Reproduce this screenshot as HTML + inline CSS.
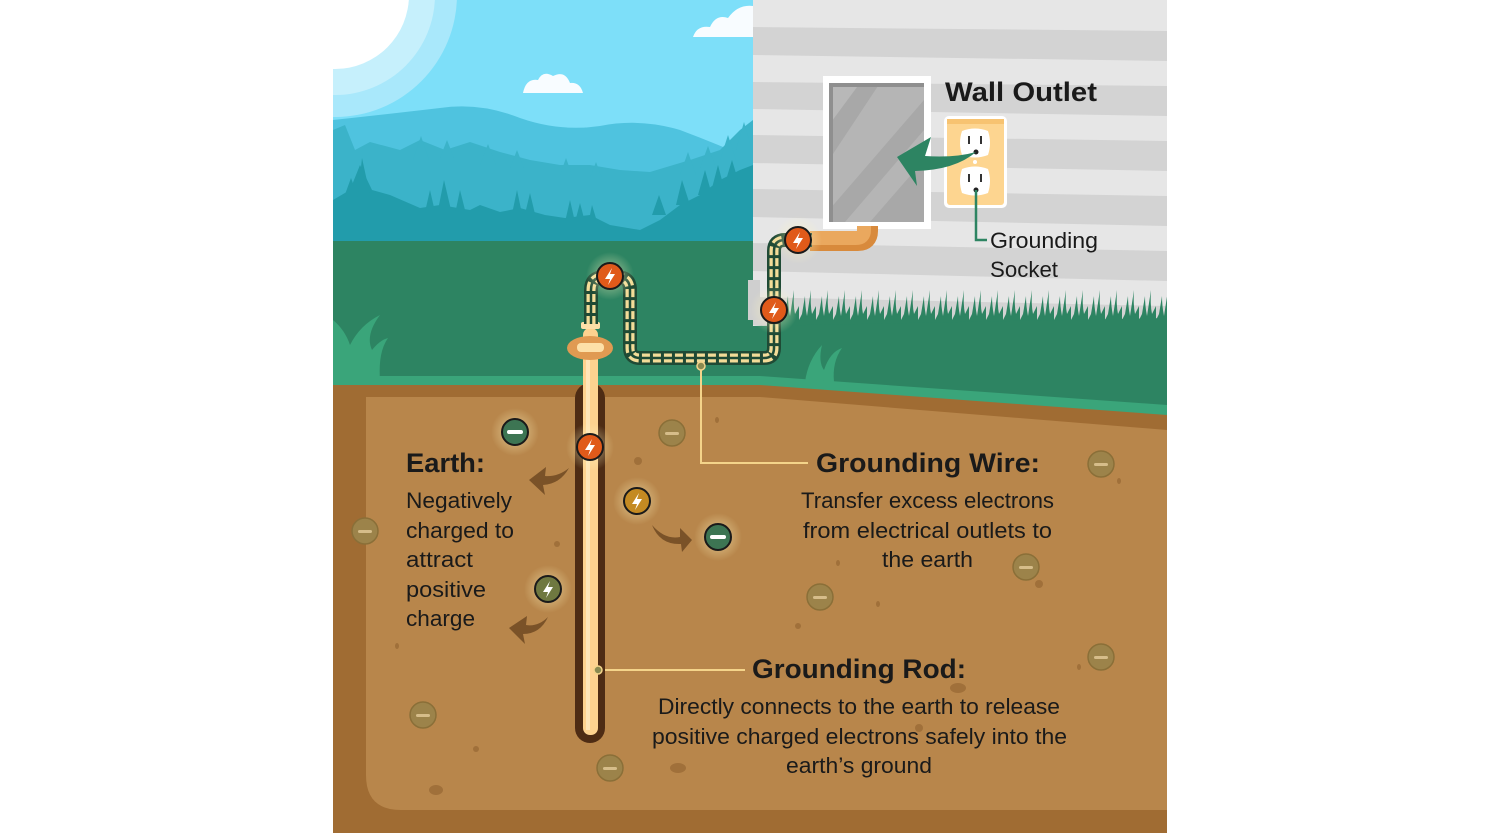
<!DOCTYPE html>
<html><head><meta charset="utf-8"><style>
html,body{margin:0;padding:0;background:#fff;}
svg{display:block;}
text{font-family:"Liberation Sans",sans-serif;fill:#1a1a1a;}
.b{font-weight:bold;font-size:27px;}
.t{font-size:22px;}
</style></head><body>
<svg width="1500" height="833" viewBox="0 0 1500 833" xmlns="http://www.w3.org/2000/svg">
<defs>
<clipPath id="c"><rect x="333" y="0" width="834" height="833"/></clipPath>
<clipPath id="sky"><rect x="333" y="0" width="420" height="400"/></clipPath>
<pattern id="grass" x="0" y="290" width="17" height="40" patternUnits="userSpaceOnUse">
<path d="M0 40 L0 30 L3 24 L6 6 Q6 16 8 26 L12 0 Q11 14 13 24 L17 16 L17 40 Z" fill="#2d8462"/>
</pattern>
<radialGradient id="glow"><stop offset="0" stop-color="#fff6c0" stop-opacity=".6"/><stop offset="1" stop-color="#fff6c0" stop-opacity="0"/></radialGradient>
</defs>
<g clip-path="url(#c)">
<g clip-path="url(#sky)">
<rect x="333" y="0" width="420" height="400" fill="#7ddff9"/>
<circle cx="335" cy="-5" r="122" fill="#a9e8fb"/>
<circle cx="335" cy="-5" r="100" fill="#c6f0fc"/>
<circle cx="335" cy="-5" r="74" fill="#fff"/>
<path d="M523 93 Q526 78 538 80 Q543 70 553 76 Q565 70 570 83 Q580 82 583 93 Z" fill="#f8fcff"/>
<path d="M693 37 Q697 25 710 27 Q716 14 728 18 Q738 4 753 6 L753 37 Z" fill="#f8fcff"/>
<path d="M333 120 Q380 115 440 108 Q480 102 520 118 Q560 132 600 126 Q640 118 680 130 Q720 145 753 160 L753 250 L333 250 Z" fill="#4fc3df"/>
<path d="M333 130 L345 125 L355 150 L370 142 L400 150 L420 140 L445 150 L470 142 L500 152 L530 160 L560 165 L590 165 L620 170 L650 172 L690 160 L720 150 L740 130 L753 120 L753 250 L333 250 Z" fill="#3bb3c9"/>
<path d="M413 160 L421 136 L429 160 Z M440 158 L447 140 L454 158 Z M480 165 L488 144 L496 165Z M510 168 L517 150 L524 168Z M560 175 L566 158 L572 175Z M590 178 L596 162 L602 178Z M680 175 L688 152 L696 175Z M700 168 L708 146 L716 168Z M720 160 L728 135 L736 160Z M736 150 L744 122 L752 150Z" fill="#3bb3c9"/>
<path d="M333 200 L350 190 L360 165 L372 190 L390 195 L420 208 L440 205 L470 210 L480 205 L500 212 L520 208 L545 215 L565 218 L590 215 L610 225 L640 230 L660 220 L680 205 L700 195 L720 180 L740 170 L753 165 L753 245 L333 245 Z" fill="#229cab"/>
<path d="M343 200 L351 178 L359 200Z M358 195 L362 158 L370 195Z M425 212 L430 190 L435 212Z M438 210 L444 180 L451 210Z M455 214 L460 190 L466 214Z M512 214 L517 190 L522 214Z M525 214 L530 193 L535 214Z M565 222 L570 200 L575 222Z M575 222 L580 203 L585 222Z M588 225 L592 205 L598 225Z M652 215 L659 195 L666 215Z M676 205 L682 180 L690 205Z M698 195 L705 170 L712 195Z M712 188 L718 165 L724 188Z M726 180 L732 160 L738 180Z" fill="#229cab"/>
</g>
<rect x="333" y="241" width="427" height="145" fill="#2d8462"/>
<rect x="753" y="0" width="414" height="345" fill="#e6e6e6"/>
<g fill="#d3d3d3">
<polygon points="753,27 1167,31 1167,61 753,55"/>
<polygon points="753,82 1167,86 1167,116 753,109"/>
<polygon points="753,135 1167,141 1167,171 753,163"/>
<polygon points="753,189 1167,196 1167,226 753,217"/>
<polygon points="753,243 1167,251 1167,281 753,271"/>
<polygon points="753,297 1167,306 1167,336 753,325"/>
</g>
<rect x="748" y="280" width="12" height="40" fill="#cfcfcf"/>
<rect x="823" y="76" width="108" height="153" fill="#fff"/>
<rect x="829" y="83" width="95" height="139" fill="#a8a8a8"/>
<polygon points="829,83 860,83 829,125" fill="#b8b8b8"/>
<polygon points="880,83 924,83 924,100 829,210 829,160" fill="#b5b5b5"/>
<polygon points="924,130 924,160 870,222 845,222" fill="#b5b5b5"/>
<rect x="829" y="83" width="95" height="4" fill="#8f8f8f"/>
<rect x="829" y="83" width="4" height="139" fill="#8f8f8f"/>
<rect x="944" y="116" width="63" height="92" rx="5" fill="#fff"/>
<rect x="947" y="119" width="57" height="86" rx="3" fill="#fdd590"/>
<rect x="947" y="119" width="57" height="5" fill="#f7c371"/>
<path d="M962 131 Q975 126 988 131 Q992 143 988 155 Q975 160 962 155 Q958 143 962 131Z" fill="#fff"/>
<path d="M962 169 Q975 164 988 169 Q992 181 988 193 Q975 198 962 193 Q958 181 962 169Z" fill="#fff"/>
<rect x="968" y="136" width="2" height="8" fill="#333"/><rect x="980" y="136" width="2" height="8" fill="#333"/>
<rect x="968" y="174" width="2" height="8" fill="#333"/><rect x="980" y="174" width="2" height="8" fill="#333"/>
<circle cx="976" cy="152" r="2.5" fill="#222"/><circle cx="976" cy="190" r="2.5" fill="#222"/>
<circle cx="975" cy="162" r="2" fill="#fff"/>
<path d="M976 152 Q955 170 915 171 L917 186 L897 157 L931 137 L925 156 Q955 158 976 152Z" fill="#2d8462"/>
<path d="M976 190 V240 H987" fill="none" stroke="#2d8462" stroke-width="2.5"/>
<rect x="776" y="290" width="391" height="40" fill="url(#grass)"/>
<polygon points="753,326 1167,318 1167,420 753,400" fill="#2d8462"/>
<path d="M805 382 Q808 360 822 345 Q818 362 824 370 Q830 352 842 348 Q832 362 834 382Z" fill="#3aa57a"/>
<path d="M333 380 L333 320 Q345 330 350 345 Q360 325 380 315 Q365 335 372 350 Q380 340 388 338 Q378 352 380 380Z" fill="#3aa57a"/>
<polygon points="333,376 760,376 1167,405 1167,833 333,833" fill="#3aa57a"/>
<polygon points="333,385 760,385 1167,415 1167,833 333,833" fill="#a06c33"/>
<path d="M366 397 H760 L1167 430 V810 H401 Q366 810 366 775 Z" fill="#b8864b"/>
<g fill="#a0703a">
<ellipse cx="638" cy="461" rx="4" ry="4"/><ellipse cx="557" cy="544" rx="3" ry="3"/><ellipse cx="397" cy="646" rx="2" ry="3"/>
<ellipse cx="476" cy="749" rx="3" ry="3"/><ellipse cx="436" cy="790" rx="7" ry="5"/><ellipse cx="678" cy="768" rx="8" ry="5"/>
<ellipse cx="717" cy="420" rx="2" ry="3"/><ellipse cx="838" cy="563" rx="2" ry="3"/><ellipse cx="1039" cy="584" rx="4" ry="4"/>
<ellipse cx="878" cy="604" rx="2" ry="3"/><ellipse cx="798" cy="626" rx="3" ry="3"/><ellipse cx="958" cy="688" rx="8" ry="5"/>
<ellipse cx="919" cy="728" rx="4" ry="4"/><ellipse cx="1119" cy="481" rx="2" ry="3"/><ellipse cx="1079" cy="667" rx="2" ry="3"/>
</g>
<path d="M701 366 V463 H808" fill="none" stroke="#f4d48a" stroke-width="2"/>
<path d="M598 670 H745" fill="none" stroke="#f4d48a" stroke-width="2"/>
<rect x="575" y="383" width="30" height="360" rx="15" fill="#4e2c14"/>
<rect x="583" y="328" width="15" height="407" rx="7" fill="#fdd28f"/>
<rect x="586" y="340" width="4" height="390" fill="#fee5b8"/>
<rect x="581" y="322" width="19" height="7" rx="2" fill="#fde0a8"/>
<ellipse cx="590" cy="348" rx="23" ry="12" fill="#e09a52"/>
<rect x="577" y="343" width="27" height="9" rx="4" fill="#fde0a8"/>
<circle cx="598" cy="670" r="4" fill="#8a8a50" stroke="#f4d48a" stroke-width="1.5"/>
<path d="M810 241 H858 Q868 241 868 231 V226" fill="none" stroke="#d88a3c" stroke-width="20"/>
<path d="M810 238 H856 Q864 238 864 230 V226" fill="none" stroke="#eaa85e" stroke-width="14"/>
<g fill="none" stroke-linejoin="round">
<path d="M591 324 V290 Q591 277 604 277 H617 Q630 277 630 290 V348 Q630 358 640 358 H764 Q774 358 774 348 V251 Q774 240 785 240 H812" stroke="#1f4a35" stroke-width="14"/>
<path d="M591 324 V290 Q591 277 604 277 H617 Q630 277 630 290 V348 Q630 358 640 358 H764 Q774 358 774 348 V251 Q774 240 785 240 H812" stroke="#f3dc98" stroke-width="9" stroke-dasharray="8 3"/>
<path d="M591 324 V290 Q591 277 604 277 H617 Q630 277 630 290 V348 Q630 358 640 358 H764 Q774 358 774 348 V251 Q774 240 785 240 H812" stroke="#1f4a35" stroke-width="2.5"/>
</g>
<circle cx="701" cy="366" r="4" fill="#8a8a50" stroke="#f4d48a" stroke-width="1.5"/>
<g>
<circle cx="610" cy="276" r="24" fill="url(#glow)"/><circle cx="798" cy="240" r="24" fill="url(#glow)"/>
<circle cx="774" cy="310" r="24" fill="url(#glow)"/><circle cx="590" cy="447" r="24" fill="url(#glow)"/>
<circle cx="637" cy="501" r="24" fill="url(#glow)"/><circle cx="548" cy="589" r="24" fill="url(#glow)"/>
<circle cx="515" cy="432" r="24" fill="url(#glow)"/><circle cx="718" cy="537" r="24" fill="url(#glow)"/>
</g>
<g stroke="#1a1a1a" stroke-width="2">
<circle cx="610" cy="276" r="13" fill="#e05a1a"/><circle cx="798" cy="240" r="13" fill="#e05a1a"/>
<circle cx="774" cy="310" r="13" fill="#e05a1a"/><circle cx="590" cy="447" r="13" fill="#e05a1a"/>
<circle cx="637" cy="501" r="13" fill="#c48a22"/><circle cx="548" cy="589" r="13" fill="#6f7840"/>
<circle cx="515" cy="432" r="13" fill="#3d7553"/><circle cx="718" cy="537" r="13" fill="#3d7553"/>
</g>
<g fill="#fff">
<path d="M612 268 L605 279 L610 279 L608 285 L615 274 L610 274 Z"/>
<path d="M800 232 L793 243 L798 243 L796 249 L803 238 L798 238 Z"/>
<path d="M776 302 L769 313 L774 313 L772 319 L779 308 L774 308 Z"/>
<path d="M592 439 L585 450 L590 450 L588 456 L595 445 L590 445 Z"/>
<path d="M639 493 L632 504 L637 504 L635 510 L642 499 L637 499 Z"/>
<path d="M550 581 L543 592 L548 592 L546 598 L553 587 L548 587 Z"/>
<rect x="507" y="430" width="16" height="4" rx="2"/><rect x="710" y="535" width="16" height="4" rx="2"/>
</g>
<g fill="#9c834a" stroke="#8a6f38" stroke-width="1.5">
<circle cx="672" cy="433" r="13"/><circle cx="365" cy="531" r="13"/><circle cx="423" cy="715" r="13"/>
<circle cx="610" cy="768" r="13"/><circle cx="820" cy="597" r="13"/><circle cx="1026" cy="567" r="13"/>
<circle cx="1101" cy="464" r="13"/><circle cx="1101" cy="657" r="13"/>
</g>
<g fill="#d6bd8a">
<rect x="665" y="432" width="14" height="3" rx="1.5"/><rect x="358" y="530" width="14" height="3" rx="1.5"/>
<rect x="416" y="714" width="14" height="3" rx="1.5"/><rect x="603" y="767" width="14" height="3" rx="1.5"/>
<rect x="813" y="596" width="14" height="3" rx="1.5"/><rect x="1019" y="566" width="14" height="3" rx="1.5"/>
<rect x="1094" y="463" width="14" height="3" rx="1.5"/><rect x="1094" y="656" width="14" height="3" rx="1.5"/>
</g>
<g fill="#7a5228">
<path d="M569 468 Q560 484 543 485 L545 495 L529 480 L546 467 L545 476 Q558 477 569 468Z"/>
<path d="M548 617 Q540 634 523 634 L525 644 L509 628 L527 616 L526 625 Q538 627 548 617Z"/>
<path d="M652 525 Q665 540 680 537 L680 528 L692 540 L682 552 L681 544 Q660 545 652 525Z"/>
</g>
<text class="b" x="945" y="101" textLength="152" lengthAdjust="spacingAndGlyphs">Wall Outlet</text>
<text class="t" x="990" y="248" textLength="108" lengthAdjust="spacingAndGlyphs">Grounding</text>
<text class="t" x="990" y="277" textLength="68" lengthAdjust="spacingAndGlyphs">Socket</text>
<text class="b" x="406" y="472" textLength="79" lengthAdjust="spacingAndGlyphs">Earth:</text>
<text class="t" x="406" y="508" textLength="106" lengthAdjust="spacingAndGlyphs">Negatively</text>
<text class="t" x="406" y="538" textLength="108" lengthAdjust="spacingAndGlyphs">charged to</text>
<text class="t" x="406" y="567" textLength="67" lengthAdjust="spacingAndGlyphs">attract</text>
<text class="t" x="406" y="597" textLength="80" lengthAdjust="spacingAndGlyphs">positive</text>
<text class="t" x="406" y="626" textLength="69" lengthAdjust="spacingAndGlyphs">charge</text>
<text class="b" x="816" y="472" textLength="224" lengthAdjust="spacingAndGlyphs">Grounding Wire:</text>
<text class="t" x="801" y="508" textLength="253" lengthAdjust="spacingAndGlyphs">Transfer excess electrons</text>
<text class="t" x="803" y="538" textLength="249" lengthAdjust="spacingAndGlyphs">from electrical outlets to</text>
<text class="t" x="882" y="567" textLength="91" lengthAdjust="spacingAndGlyphs">the earth</text>
<text class="b" x="752" y="678" textLength="214" lengthAdjust="spacingAndGlyphs">Grounding Rod:</text>
<text class="t" x="658" y="714" textLength="402" lengthAdjust="spacingAndGlyphs">Directly connects to the earth to release</text>
<text class="t" x="652" y="744" textLength="415" lengthAdjust="spacingAndGlyphs">positive charged electrons safely into the</text>
<text class="t" x="786" y="773" textLength="146" lengthAdjust="spacingAndGlyphs">earth’s ground</text>
</g>
</svg>
</body></html>
